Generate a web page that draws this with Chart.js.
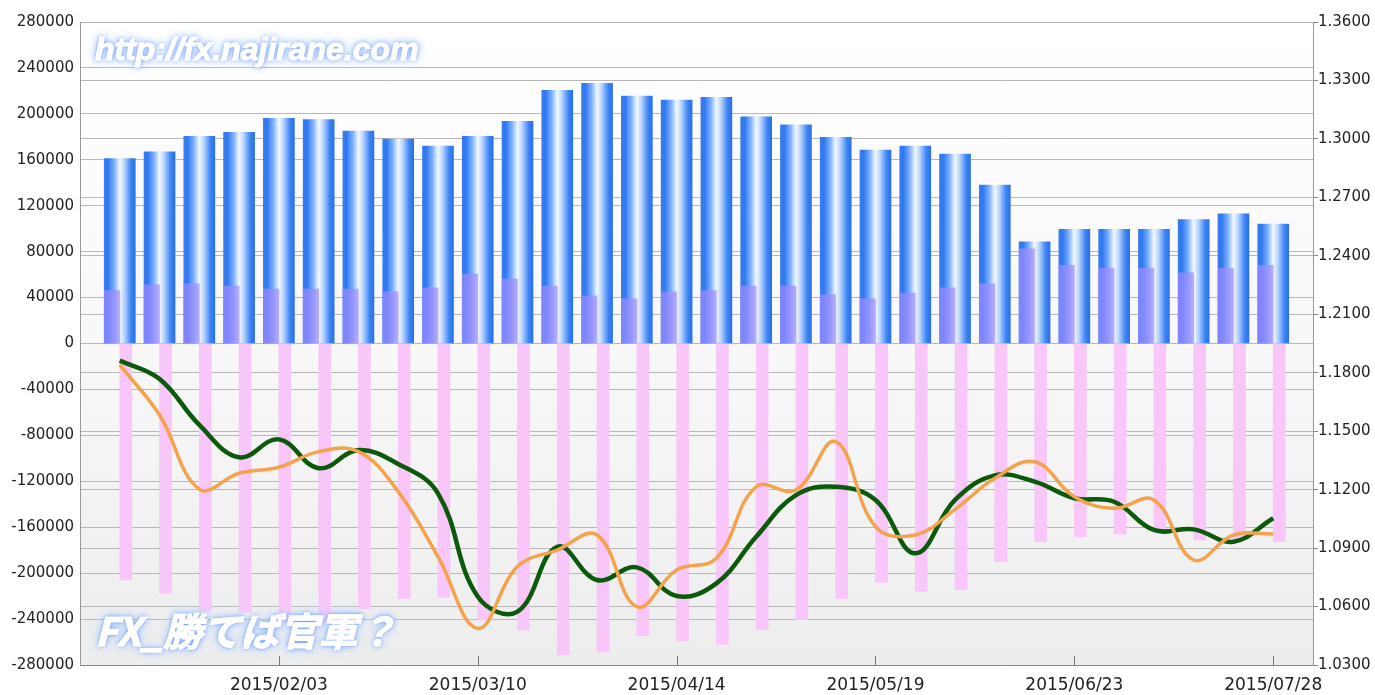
<!DOCTYPE html>
<html><head><meta charset="utf-8">
<script src="https://cdn.jsdelivr.net/npm/chart.js@4.4.1/dist/chart.umd.min.js"></script>
<style>
html,body{margin:0;padding:0;background:#fff;}
#wrap{position:relative;width:1375px;height:695px;overflow:hidden;}
canvas{display:block;}
.wm{position:absolute;color:#fff;font-style:italic;font-weight:bold;white-space:nowrap;line-height:1;
 -webkit-text-stroke:1.3px #fff;
 text-shadow:0 0 2px #5b8ff0,0 0 5px #6f9dff,0 0 10px #a9c6ff,0 0 16px #cfe0ff;}
#wm1{left:95px;top:33px;font-family:"Liberation Sans",Arial,sans-serif;font-size:32px;}
#wm2{left:95px;top:610px;font-family:"Noto Sans CJK JP",sans-serif;font-size:39px;}
</style></head><body>
<div id="wrap"><canvas id="c" width="1375" height="695"></canvas>
<div class="wm" id="wm1">http://fx.najirane.com</div>
<div class="wm" id="wm2">FX_勝てば官軍？</div></div>
<script>
const categories = ['2015/01/06','2015/01/13','2015/01/20','2015/01/27','2015/02/03','2015/02/10','2015/02/17','2015/02/24','2015/03/03','2015/03/10','2015/03/17','2015/03/24','2015/03/31','2015/04/07','2015/04/14','2015/04/21','2015/04/28','2015/05/05','2015/05/12','2015/05/19','2015/05/26','2015/06/02','2015/06/09','2015/06/16','2015/06/23','2015/06/30','2015/07/07','2015/07/14','2015/07/21','2015/07/28'];
const netShort = [161000,167000,180500,184000,196000,195000,185000,178000,172000,180500,193500,220500,226500,215500,212000,214500,197500,190500,179500,168500,172000,165000,138000,88500,99500,99500,99500,108000,113000,104000];
const longPositions = [46000,51000,52000,50000,47500,47500,47500,45000,48500,60500,56000,50000,41500,39000,45000,46000,50000,50000,42500,39000,44000,48500,52000,82500,68000,65500,65500,61500,65500,68000];
const shortPositions = [-206000,-217500,-233000,-234000,-243000,-242000,-231000,-222000,-221000,-241000,-249500,-271000,-268500,-254500,-259000,-262000,-249000,-240500,-222000,-208000,-216000,-214500,-190000,-172500,-168500,-166000,-165500,-171000,-170500,-172500];
const rateGreen = [1.1862,1.1768,1.1532,1.1366,1.1458,1.1310,1.1403,1.1332,1.1181,1.0651,1.0574,1.0907,1.0736,1.0801,1.0654,1.0719,1.0958,1.1172,1.1215,1.1147,1.0873,1.1147,1.1273,1.1241,1.1156,1.1138,1.0993,1.0996,1.0933,1.1053];
const rateOrange = [1.1840,1.1583,1.1203,1.1284,1.1315,1.1395,1.1395,1.1190,1.0856,1.0488,1.0805,1.0890,1.0967,1.0599,1.0788,1.0848,1.1215,1.1198,1.1446,1.1010,1.0967,1.1099,1.1258,1.1343,1.1164,1.1104,1.1147,1.0839,1.0967,1.0972];
const dateTickIndex = [4, 9, 14, 19, 24, 29];
const leftAxis = {min: -280000, max: 280000, step: 40000};
const rightAxis = {min: 1.03, max: 1.36, step: 0.03};

const pts = arr => arr.map((v, i) => ({x: i, y: v}));
const BLUE_W = 31;

function blueFill(c) {
  const chart = c.chart, xs = chart.scales && chart.scales.x;
  const flat = '#3a80f2';
  if (!xs || c.dataIndex === undefined) return flat;
  const cx = xs.getPixelForValue(c.dataIndex);
  if (!isFinite(cx)) return flat;
  const h = BLUE_W / 2;
  const g = chart.ctx.createLinearGradient(cx - h, 0, cx + h, 0);
  g.addColorStop(0, '#3a7cec');
  g.addColorStop(0.12, '#2f78f3');
  g.addColorStop(0.33, '#82b3fb');
  g.addColorStop(0.5, '#f3f9ff');
  g.addColorStop(0.64, '#bcd6fd');
  g.addColorStop(0.86, '#3d85f5');
  g.addColorStop(1, '#2b6fe5');
  return g;
}

const bgPlugin = {
  id: 'bg',
  beforeDraw(chart) {
    const {ctx, chartArea: a} = chart;
    ctx.save();
    ctx.fillStyle = '#ffffff';
    ctx.fillRect(0, 0, chart.width, chart.height);
    const g = ctx.createLinearGradient(0, a.top, 0, a.bottom);
    g.addColorStop(0, '#ffffff');
    g.addColorStop(0.5, '#f8f8f8');
    g.addColorStop(1, '#ededed');
    ctx.fillStyle = g;
    ctx.fillRect(a.left, a.top, a.right - a.left, a.bottom - a.top);
    ctx.restore();
  }
};
const tickPlugin = {
  id: 'inTicks',
  afterDraw(chart) {
    const {ctx, chartArea: a} = chart, xs = chart.scales.x;
    ctx.save();
    ctx.strokeStyle = '#777';
    ctx.lineWidth = 1;
    xs.ticks.forEach(t => {
      const px = Math.round(xs.getPixelForValue(t.value)) + 0.5;
      ctx.beginPath();
      ctx.moveTo(px, a.bottom);
      ctx.lineTo(px, a.bottom - 9);
      ctx.stroke();
    });
    ctx.restore();
  }
};

new Chart(document.getElementById('c'), {
  data: {
    datasets: [
      {type: 'line', label: 'rate1', data: pts(rateOrange), yAxisID: 'y2', borderColor: '#f4a24c', borderWidth: 3.5, pointRadius: 0, tension: 0.4, order: 0},
      {type: 'line', label: 'rate2', data: pts(rateGreen), yAxisID: 'y2', borderColor: '#0b5a0b', borderWidth: 4.5, pointRadius: 0, tension: 0.4, order: 1},
      {type: 'bar', label: 'short', data: pts(shortPositions), yAxisID: 'y', backgroundColor: '#f8c6f8', barThickness: 12, stack: 's', order: 3},
      {type: 'bar', label: 'long', data: pts(longPositions), yAxisID: 'y', backgroundColor: 'rgba(160,140,255,0.7)', barThickness: BLUE_W / 2, stack: 'l', order: 2},
      {type: 'bar', label: 'net', data: pts(netShort), yAxisID: 'y', backgroundColor: blueFill, barThickness: BLUE_W, grouped: false, order: 4}
    ]
  },
  options: {
    responsive: false,
    animation: false,
    layout: {padding: {top: 22, left: 0, right: 0, bottom: 0}},
    plugins: {legend: {display: false}, tooltip: {enabled: false}},
    datasets: {bar: {borderWidth: 0}},
    scales: {
      x: {
        type: 'linear', min: -1, max: 30, offset: false,
        afterDataLimits: s => { s.min = -1; s.max = 30; },
        afterBuildTicks: s => { s.ticks = dateTickIndex.map(v => ({value: v})); },
        afterFit: s => { s.height = 30; },
        grid: {offset: false, drawOnChartArea: false, drawTicks: false},
        border: {color: '#888', width: 1},
        ticks: {autoSkip: false, maxRotation: 0, padding: 10, color: '#222',
          font: {family: 'DejaVu Sans', size: 17},
          callback: v => categories[v]}
      },
      y: {
        position: 'left', min: leftAxis.min, max: leftAxis.max,
        afterFit: s => { s.width = 80; },
        grid: {color: '#b8b8b8', drawTicks: false},
        border: {color: '#999', width: 1},
        ticks: {stepSize: leftAxis.step, padding: 6, color: '#222',
          font: {family: 'DejaVu Sans', size: 15},
          callback: v => String(v)}
      },
      y2: {
        position: 'right', min: rightAxis.min, max: rightAxis.max,
        afterFit: s => { s.width = 62; },
        grid: {color: '#b8b8b8', tickLength: 5, tickColor: '#888'},
        border: {color: '#999', width: 1},
        ticks: {stepSize: rightAxis.step, padding: 0, color: '#222',
          font: {family: 'DejaVu Sans', size: 15},
          callback: v => v.toFixed(4)}
      }
    }
  },
  plugins: [bgPlugin, tickPlugin]
});
</script>
</body></html>
